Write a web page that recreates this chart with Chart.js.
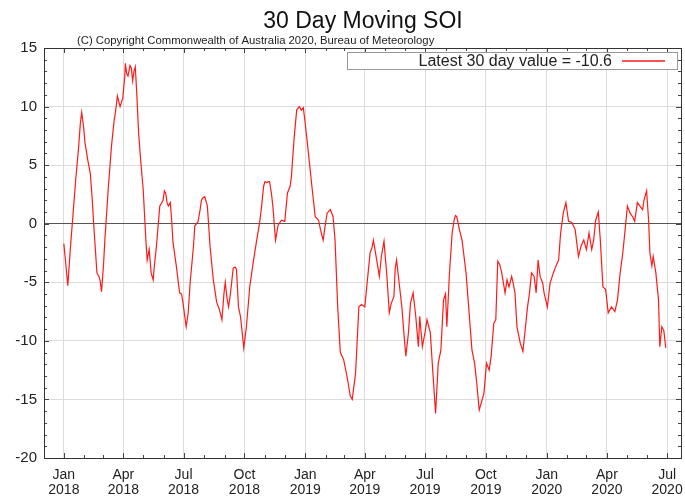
<!DOCTYPE html>
<html>
<head>
<meta charset="utf-8">
<script src="https://cdn.jsdelivr.net/npm/chart.js@4.4.1/dist/chart.umd.min.js"></script>
<style>
  html, body { margin: 0; padding: 0; background: #fff; }
</style>
</head>
<body>
<canvas id="soiChart" width="685" height="497"></canvas>
<script>
// days since 1 Jan 2018
const soiDays = [
  0, 3, 6, 10, 14, 18, 22, 25, 27, 30, 32, 36, 40, 43, 45, 50, 53, 55, 57, 60,
  62, 67, 72, 76, 78, 81, 85, 89, 92, 93, 95, 97, 100, 102, 104, 106, 108, 110, 113, 116,
  120, 124, 126, 129, 132, 135, 137, 140, 145, 150, 152, 154, 156, 158, 161, 163, 165, 170, 175, 178,
  180, 183, 185, 188, 191, 196, 198, 203, 206, 208, 210, 213, 217, 221, 226, 231, 235, 239, 242, 244,
  247, 249, 252, 256, 259, 261, 264, 267, 270, 272, 276, 281, 286, 291, 296, 299, 302, 304, 307, 309,
  311, 314, 316, 320, 324, 329, 334, 338, 342, 344, 348, 352, 356, 359, 362, 364, 366, 370, 375, 380,
  385, 388, 392, 395, 398, 403, 407, 410, 414, 418, 423, 428, 433, 436, 441, 446, 450, 455, 460, 463,
  466, 468, 473, 477, 480, 484, 488, 492, 495, 499, 501, 503, 507, 511, 514, 517, 521, 524, 528, 532,
  536, 538, 542, 546, 549, 554, 558, 562, 566, 570, 574, 577, 579, 583, 587, 590, 592, 594, 598, 602,
  605, 608, 612, 617, 621, 624, 628, 631, 635, 639, 643, 646, 650, 653, 656, 659, 662, 667, 670, 673,
  677, 679, 682, 685, 690, 694, 697, 701, 704, 707, 711, 714, 717, 720, 724, 726, 731, 735, 740, 744,
  748, 751, 755, 759, 761, 763, 768, 773, 778, 782, 786, 790, 794, 798, 801, 804, 808, 811, 815, 819,
  823, 828, 833, 837, 841, 845, 848, 852, 856, 860, 863, 867, 871, 875, 877, 881, 884, 886, 889, 891,
  895, 899, 901, 904, 907, 910
];
const soiValues = [
  -1.7, -3.5, -5.3, -2.0, 0.9, 3.8, 6.3, 8.6, 9.5, 8.2, 6.9, 5.5, 4.3, 2.0, 0.1, -4.2, -4.5, -4.9, -5.8, -3.5,
  -1.4, 2.9, 6.6, 8.8, 9.5, 10.9, 10.0, 10.7, 12.5, 13.7, 12.8, 12.6, 13.5, 13.3, 12.2, 13.0, 13.4, 11.4, 7.8, 5.5,
  2.9, -1.4, -3.1, -2.2, -4.2, -4.8, -3.5, -1.9, 1.5, 2.0, 2.8, 2.6, 1.8, 1.5, 1.8, 0.3, -1.6, -3.6, -5.9, -6.0,
  -6.7, -8.0, -8.8, -7.6, -5.0, -1.9, -0.2, 0.2, 1.2, 2.0, 2.2, 2.3, 1.5, -1.9, -4.8, -6.7, -7.3, -8.2, -6.0, -5.0,
  -6.5, -7.1, -5.9, -3.8, -3.7, -3.9, -7.1, -7.9, -9.5, -10.6, -8.8, -5.4, -3.4, -1.6, 0.1, 1.5, 3.2, 3.6, 3.5, 3.6,
  3.6, 2.5, 1.5, -1.4, -0.1, 0.3, 0.2, 2.6, 3.2, 4.0, 7.2, 9.7, 10.0, 9.7, 9.9, 9.0, 8.0, 5.9, 3.2, 0.6,
  0.3, -0.5, -1.4, -0.2, 0.9, 1.2, 0.6, -1.4, -7.1, -11.0, -11.6, -13.0, -14.7, -15.0, -12.8, -7.1, -6.9, -7.1, -4.2, -2.5,
  -2.0, -1.4, -3.1, -4.5, -2.8, -1.5, -4.2, -7.6, -6.8, -6.2, -3.8, -3.1, -5.1, -7.1, -9.3, -11.3, -9.3, -6.8, -5.9, -7.9,
  -10.5, -7.9, -10.5, -9.3, -8.2, -9.3, -12.8, -16.2, -11.9, -10.8, -6.5, -6.0, -8.8, -4.2, -0.8, 0.3, 0.7, 0.6, -0.5, -1.4,
  -2.8, -4.2, -7.1, -10.8, -11.9, -13.5, -15.9, -15.3, -14.5, -11.9, -12.5, -11.3, -8.5, -8.2, -3.2, -3.5, -4.2, -5.9, -4.8, -5.4,
  -4.5, -5.0, -5.9, -8.8, -10.2, -10.9, -9.3, -7.1, -5.9, -4.2, -4.5, -5.9, -3.1, -4.5, -5.1, -5.9, -7.1, -5.1, -4.2, -3.6,
  -3.1, -0.8, 0.9, 1.8, 1.0, 0.2, 0.1, -0.5, -2.8, -1.9, -1.4, -2.2, -0.8, -2.2, -1.4, 0.3, 1.0, -1.4, -5.4, -5.6,
  -7.6, -7.1, -7.5, -6.5, -4.2, -2.5, -0.8, 1.5, 0.9, 0.6, 0.2, 1.8, 1.5, 1.2, 2.0, 2.8, 0.3, -2.5, -3.6, -2.8,
  -4.2, -6.5, -10.5, -8.8, -9.1, -10.6
];

// x axis ticks (days since 1 Jan 2018) and their labels
const monthTickDays = [0, 90, 181, 273, 365, 455, 546, 638, 730, 821, 912];
const monthTickLabels = [
  ['Jan', '2018'], ['Apr', '2018'], ['Jul', '2018'], ['Oct', '2018'],
  ['Jan', '2019'], ['Apr', '2019'], ['Jul', '2019'], ['Oct', '2019'],
  ['Jan', '2020'], ['Apr', '2020'], ['Jul', '2020']
];
const yTickValues = [15, 10, 5, 0, -5, -10, -15, -20];

const latestValue = -10.6;
const FONT = '"Liberation Sans", Arial, Helvetica, sans-serif';

// first-of-month positions for the small ticks
function minorMonthDays() {
  const out = [];
  const base = Date.UTC(2018, 0, 1);
  for (let m = -1; m < 32; m++) {
    out.push(Math.round((Date.UTC(2018, m, 1) - base) / 86400000));
  }
  return out;
}

const framePlugin = {
  id: 'frame',
  afterDraw(chart) {
    const { ctx, chartArea: a, scales } = chart;
    const xs = scales.x, ys = scales.y;
    ctx.save();

    // ticks, pointing inward on all four sides
    ctx.strokeStyle = '#444';
    ctx.lineWidth = 1;
    ctx.beginPath();
    minorMonthDays().forEach(d => {
      if (d < xs.min || d > xs.max) return;
      const px = Math.round(xs.getPixelForValue(d)) + 0.5;
      const len = monthTickDays.includes(d) ? 5 : 3;
      ctx.moveTo(px, a.bottom); ctx.lineTo(px, a.bottom - len);
      ctx.moveTo(px, a.top); ctx.lineTo(px, a.top + len);
    });
    for (let v = -20; v <= 15; v++) {
      const py = Math.round(ys.getPixelForValue(v)) + 0.5;
      const len = v % 5 === 0 ? 5 : 3;
      ctx.moveTo(a.left, py); ctx.lineTo(a.left + len, py);
      ctx.moveTo(a.right, py); ctx.lineTo(a.right - len, py);
    }
    ctx.stroke();

    // frame
    ctx.strokeStyle = '#333';
    ctx.strokeRect(Math.round(a.left) + 0.5, Math.round(a.top) + 0.5,
      Math.round(a.right - a.left), Math.round(a.bottom - a.top));

    // titles
    ctx.fillStyle = '#111';
    ctx.textAlign = 'center';
    ctx.textBaseline = 'alphabetic';
    ctx.font = '23px ' + FONT;
    ctx.fillText('30 Day Moving SOI', 363, 28);
    ctx.textAlign = 'left';
    ctx.font = '11.3px ' + FONT;
    ctx.fillStyle = '#222';
    ctx.fillText('(C) Copyright Commonwealth of Australia 2020, Bureau of Meteorology', 77, 44);

    // legend box
    const bx = 347, by = 52, bw = 330, bh = 17;
    ctx.fillStyle = '#fff';
    ctx.fillRect(bx, by, bw, bh);
    ctx.strokeStyle = '#999';
    ctx.strokeRect(bx + 0.5, by + 0.5, bw, bh);
    ctx.fillStyle = '#222';
    ctx.font = '16px ' + FONT;
    ctx.textAlign = 'right';
    ctx.textBaseline = 'middle';
    ctx.fillText('Latest 30 day value = ' + latestValue, 612, by + bh / 2 + 1);
    ctx.strokeStyle = '#ff1a1a';
    ctx.lineWidth = 1.3;
    ctx.beginPath();
    ctx.moveTo(622, by + 9); ctx.lineTo(665, by + 9);
    ctx.stroke();

    ctx.restore();
  }
};

const ctx = document.getElementById('soiChart').getContext('2d');
new Chart(ctx, {
  type: 'line',
  data: {
    datasets: [{
      label: '30 Day Moving SOI',
      data: soiDays.map((d, i) => ({ x: d, y: soiValues[i] })),
      borderColor: '#ff1a1a',
      borderWidth: 1.2,
      pointRadius: 0,
      tension: 0,
      fill: false
    }]
  },
  options: {
    responsive: false,
    animation: false,
    layout: { padding: { top: 48, right: 4, left: 0, bottom: 0 } },
    plugins: {
      legend: { display: false },
      title: { display: false },
      tooltip: { enabled: false }
    },
    scales: {
      x: {
        type: 'linear',
        min: -30,
        max: 933,
        afterBuildTicks: scale => {
          scale.ticks = monthTickDays.map(v => ({ value: v }));
        },
        afterFit: scale => {
          scale.height = 39;
          scale.paddingLeft = 0;
          scale.paddingRight = 0;
        },
        grid: {
          color: '#dcdcdc',
          drawTicks: false
        },
        border: { display: false },
        ticks: {
          autoSkip: false,
          maxRotation: 0,
          padding: 10,
          color: '#222',
          font: { family: FONT, size: 14, lineHeight: 1.05 },
          callback: (val, i) => monthTickLabels[i]
        }
      },
      y: {
        min: -20,
        max: 15,
        afterBuildTicks: scale => {
          scale.ticks = yTickValues.map(v => ({ value: v }));
        },
        afterFit: scale => {
          scale.width = 44;
          scale.paddingTop = 0;
          scale.paddingBottom = 0;
        },
        grid: {
          color: c => (c.tick && c.tick.value === 0 ? '#555' : '#dcdcdc'),
          drawTicks: false
        },
        border: { display: false },
        ticks: {
          padding: 7,
          color: '#222',
          font: { family: FONT, size: 15 }
        }
      }
    }
  },
  plugins: [framePlugin]
});
</script>
</body>
</html>
